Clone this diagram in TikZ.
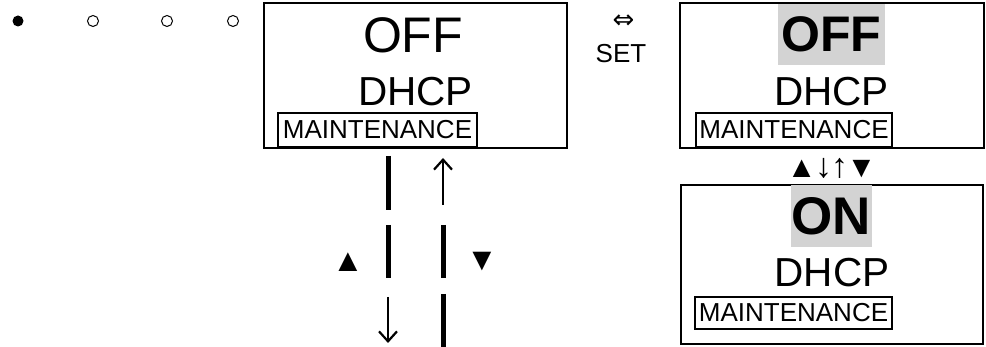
\documentclass[tikz,border=0pt]{standalone}
\usepackage{fontspec}
\setmainfont{Liberation Sans}
\newfontfamily\symfont{DejaVu Sans}
\usetikzlibrary{arrows.meta}
\definecolor{hl}{RGB}{211,211,211}
\begin{document}
\begin{tikzpicture}[x=1pt,y=-1pt,
  frame/.style={draw, line width=2pt, inner sep=0pt},
  mbox/.style={draw, line width=1.5pt, minimum width=199pt, minimum height=34pt, inner sep=0pt, font=\fontsize{26}{28}\selectfont},
  txt/.style={inner sep=0pt, anchor=base},
  bigtxt/.style={txt, font=\fontsize{50}{52}\selectfont},
  midtxt/.style={txt, font=\fontsize{40.5}{42}\selectfont},
  smalltxt/.style={txt, font=\fontsize{26}{28}\selectfont},
  symtxt/.style={inner sep=0pt, font=\fontsize{32}{34}\selectfont},
  hlbox/.style={fill=hl, inner sep=0pt, font=\bfseries\fontsize{50}{52}\selectfont},
  bar/.style={line width=5pt},
  arr/.style={line width=2.2pt, -{Straight Barb[length=10pt,width=18pt]}},
  dotfull/.style={circle, fill=black, inner sep=0pt, minimum size=11pt},
  dotopen/.style={circle, draw=black, line width=1pt, inner sep=0pt, minimum size=11pt}
]
\useasboundingbox (0,0) rectangle (986,347);

% page indicator
\node[dotfull] (d1) at (18,21) {};
\node[dotopen] (d2) at (93,21) {};
\node[dotopen] (d3) at (167,21) {};
\node[dotopen] (d4) at (233,21) {};

% left screen
\node[frame, minimum width=303pt, minimum height=145pt] (scrA) at (415.5,75.5) {};
\node[bigtxt] (offA) at (413,53) {OFF};
\node[midtxt] (dhcpA) at (415.5,106) {DHCP};
\node[mbox] (mA) at (377.5,130) {MAINTENANCE};

% SET
\node[inner sep=0pt, font=\symfont\fontsize{26}{28}\selectfont] (lr) at (623.5,21.5) {⇔};
\node[smalltxt] (set) at (621,63) {SET};

% right top screen
\node[frame, minimum width=304pt, minimum height=145pt] (scrB) at (832,75.5) {};
\node[hlbox, minimum width=107pt, minimum height=61pt] (offB) at (831.5,34.5) {OFF};
\node[midtxt] (dhcpB) at (831.5,106) {DHCP};
\node[mbox, minimum width=196pt] (mB) at (794,130) {MAINTENANCE};

% keys between right screens
\node[txt, font=\fontsize{30}{32}\selectfont] (keys) at (831.5,178)
  {▲\kern-1.5pt{\fontsize{34}{34}\selectfont ↓\kern-1pt↑}\kern-1.5pt▼};

% right bottom screen
\node[frame, minimum width=302pt, minimum height=159pt] (scrC) at (832,264.5) {};
\node[hlbox, minimum width=81pt, minimum height=62pt, font=\bfseries\fontsize{53}{55}\selectfont] (onC) at (831.5,216) {ON};
\node[midtxt] (dhcpC) at (832,287) {DHCP};
\node[mbox, minimum width=197pt, minimum height=32pt] (mC) at (793.5,313) {MAINTENANCE};

% scroll column below left screen
\coordinate (l1a) at (388,156); \coordinate (l1b) at (388,210);
\coordinate (l2a) at (388,225); \coordinate (l2b) at (388,278);
\coordinate (l3a) at (388,297); \coordinate (l3b) at (388,343);
\coordinate (r1a) at (443,205); \coordinate (r1b) at (443,158);
\coordinate (r2a) at (443,225); \coordinate (r2b) at (443,278);
\coordinate (r3a) at (443,294); \coordinate (r3b) at (443,347);
\draw[bar] (l1a) -- (l1b);
\draw[bar] (l2a) -- (l2b);
\draw[arr] (l3a) -- (l3b);
\draw[arr] (r1a) -- (r1b);
\draw[bar] (r2a) -- (r2b);
\draw[bar] (r3a) -- (r3b);
\node[symtxt] (up) at (348,262) {▲};
\node[symtxt] (down) at (482,262) {▼};
\end{tikzpicture}
\end{document}
